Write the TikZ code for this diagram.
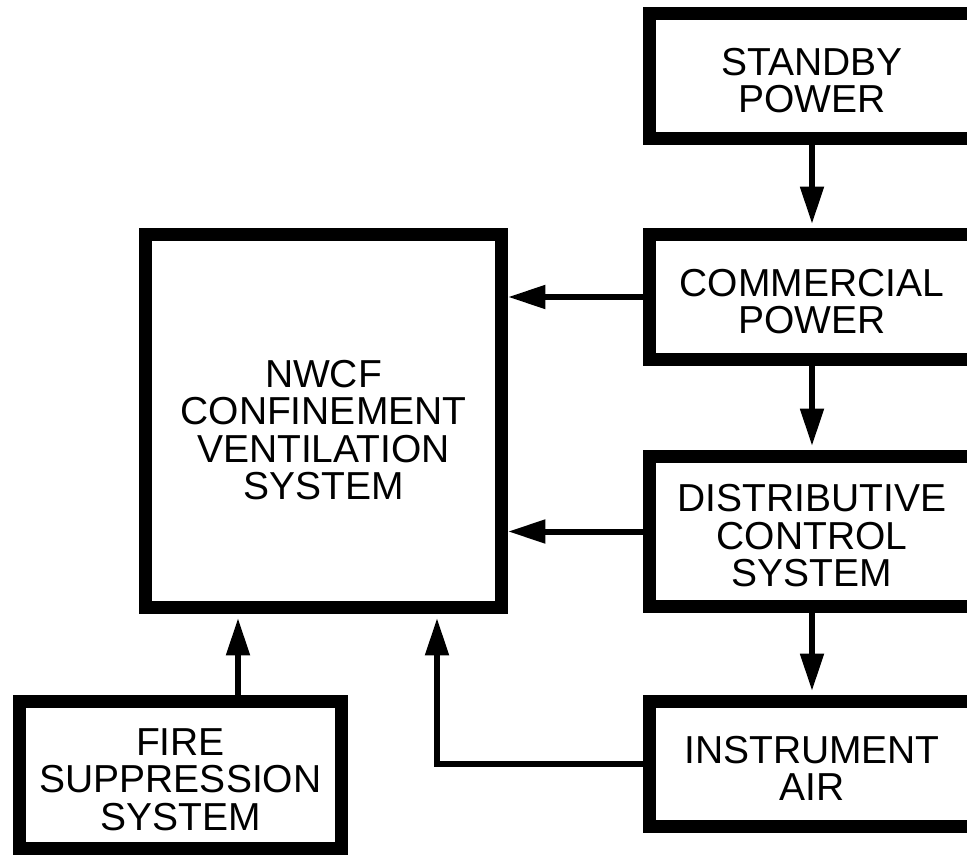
\documentclass[tikz,border=0pt]{standalone}
\usepackage{fontspec}
\setmainfont{Liberation Sans}
\usetikzlibrary{arrows.meta,calc}
\tikzset{
	blk/.style={draw,line width=9.75pt,inner sep=0pt,align=center,
		font=\fontsize{29.25}{28}\selectfont},
	rblk/.style={blk,minimum width=243.75pt,minimum height=93.75pt,text height=55pt},
	flow/.style={line width=4.5pt,-{Triangle[length=28pt,width=17pt]}},
}
\begin{document}
\begin{tikzpicture}[x=0.75pt,y=-0.75pt]
				\useasboundingbox (0,0) rectangle (967,856);
				\clip (0,0) rectangle (967,856);
				% right column
				\node[rblk] (standby) at (812,76) {STANDBY\\POWER};
				\node[rblk] (commercial) at (812,297) {COMMERCIAL\\POWER};
				\node[rblk,minimum height=112.5pt,text height=83pt] (distrib) at (812,531.5) {DISTRIBUTIVE\\CONTROL\\SYSTEM};
				\node[rblk] (instr) at (812,764) {INSTRUMENT\\AIR};
				% left side
				\node[blk,text height=118pt,minimum width=267pt,minimum height=279.75pt] (nwcf) at (323.5,421) {NWCF\\CONFINEMENT\\VENTILATION\\SYSTEM};
				\node[blk,text height=83pt,minimum width=241.5pt,minimum height=110.25pt] (fire) at (180.5,775) {FIRE\\SUPPRESSION\\SYSTEM};
				\path[flow,shorten >=3pt]
				\foreach \from/\to in {standby/commercial,commercial/distrib,distrib/instr} {
					(\from) edge (\to)
				};
				\foreach \src in {commercial,distrib} {
					\draw[flow] (\src.west) -- (\src.west -| nwcf.east);
				};
				\draw[flow,shorten >=3pt] ($(fire.north)+(57.5,0)$) coordinate (f) -- (f |- nwcf.south);
				\draw[flow,shorten >=3pt] (instr.west) -| ($(nwcf.south)+(113.5,0)$);
			\end{tikzpicture}
\end{document}
